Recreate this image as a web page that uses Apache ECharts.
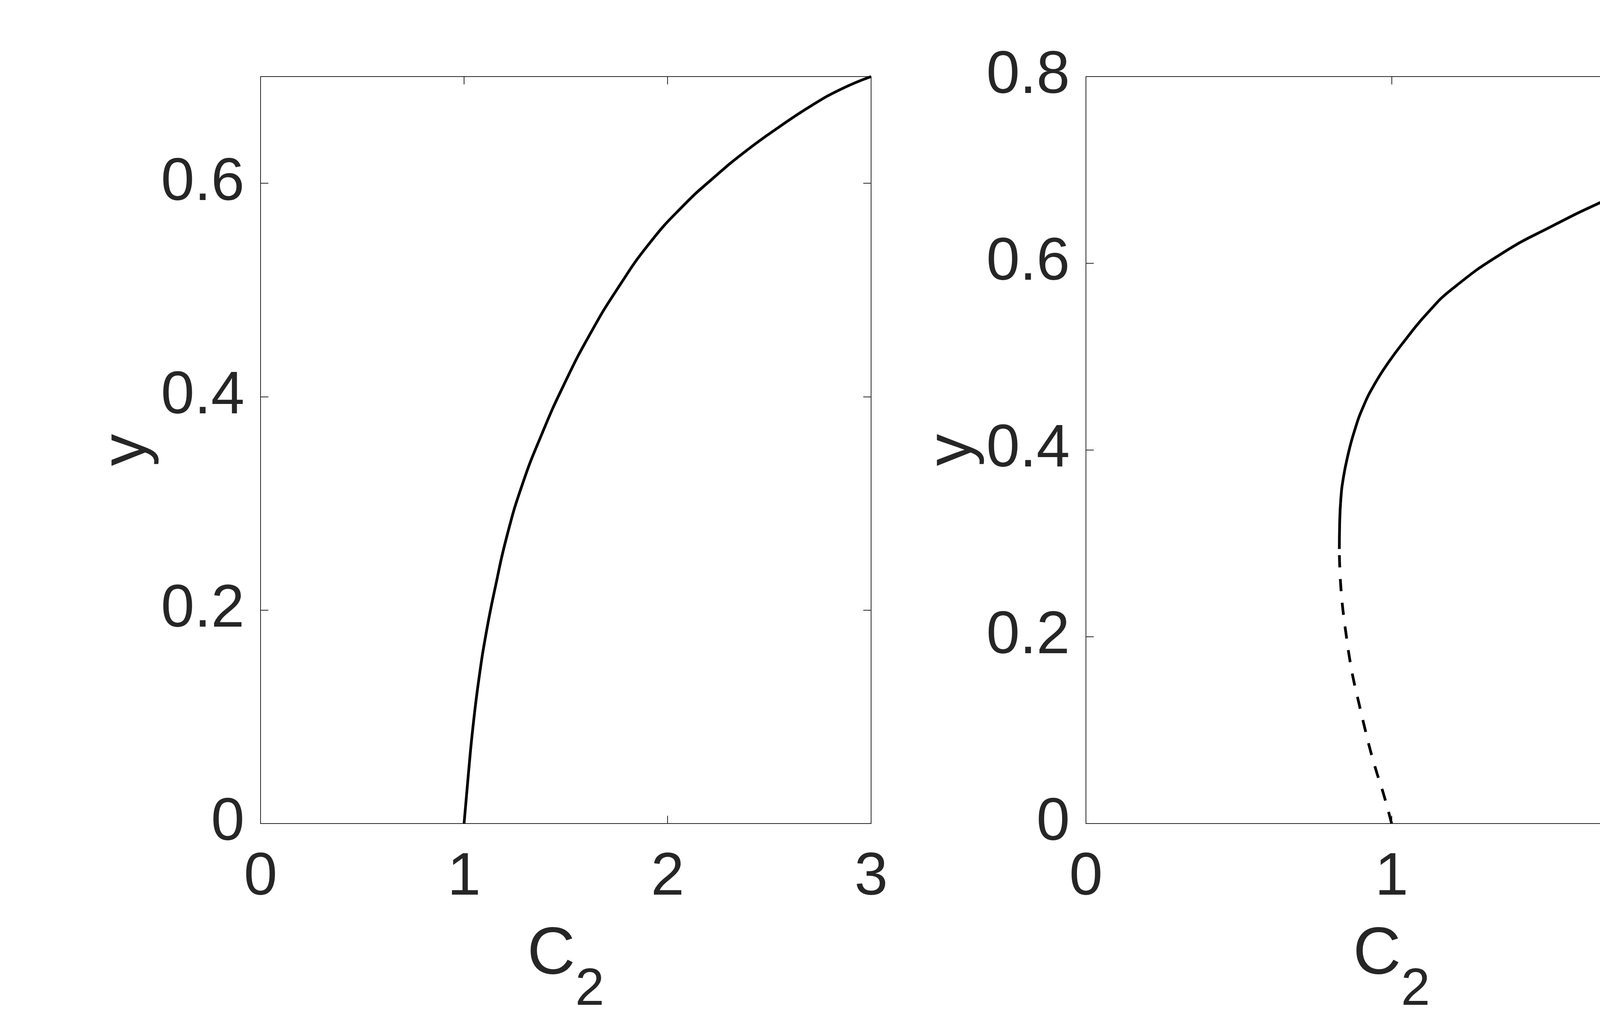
<!DOCTYPE html>
<html>
<head>
<meta charset="utf-8">
<script src="https://cdn.jsdelivr.net/npm/echarts@6/dist/echarts.min.js"></script>
<style>
html,body{margin:0;padding:0;background:#fff;}
#chart{width:4800px;height:2616px;}
</style>
</head>
<body>
<div id="chart"></div>
<script>
// ---- data ----
const leftC2 = [1.000, 1.022, 1.044, 1.074, 1.110, 1.154, 1.210, 1.285, 1.380, 1.490, 1.620, 1.760, 1.912, 2.072, 2.231, 2.390, 2.550, 2.709, 2.850, 3.000];
const leftY  = [0.000, 0.048, 0.091, 0.137, 0.180, 0.222, 0.269, 0.317, 0.364, 0.411, 0.459, 0.503, 0.544, 0.578, 0.606, 0.631, 0.653, 0.673, 0.688, 0.700];

const rightSolidC2 = [0.829, 0.830, 0.834, 0.842, 0.856, 0.878, 0.908, 0.945, 0.990, 1.040, 1.118, 1.200, 1.363, 1.526, 1.689, 1.852, 2.000];
const rightSolidY  = [0.294, 0.320, 0.348, 0.370, 0.393, 0.420, 0.447, 0.471, 0.494, 0.516, 0.547, 0.573, 0.611, 0.640, 0.666, 0.689, 0.707];

const rightDashC2 = [1.000, 0.976, 0.952, 0.930, 0.911, 0.893, 0.876, 0.862, 0.851, 0.841, 0.834, 0.830, 0.829];
const rightDashY  = [0.000, 0.029, 0.054, 0.079, 0.104, 0.129, 0.153, 0.178, 0.203, 0.228, 0.253, 0.278, 0.294];

const leftXTicks = [0, 1, 2, 3];
const leftYTicks = [0, 0.2, 0.4, 0.6];
const rightXTicks = [0, 1, 2];
const rightYTicks = [0, 0.2, 0.4, 0.6, 0.8];
const xNameMain = 'C';
const xNameSub = '2';
const yName = 'y';

// ---- chart ----
const FONT = '"Liberation Sans", Arial, Helvetica, sans-serif';
const INK = '#262626';
const zip = (a, b) => a.map((v, i) => [v, b[i]]);

function xAxisPair(gridIndex, min, max, interval) {
  const base = {
    gridIndex, type: 'value', min, max, interval,
    splitLine: {show: false},
    axisLine: {show: true, onZero: false, lineStyle: {color: INK, width: 2}},
    axisTick: {show: true, inside: true, length: 20, lineStyle: {color: INK, width: 2}}
  };
  return [
    Object.assign({}, base, {
      position: 'bottom',
      name: '{c|' + xNameMain + '}{s|' + xNameSub + '}',
      nameLocation: 'middle',
      nameGap: 288,
      nameMoveOverlap: false,
      nameTextStyle: {
        rich: {
          c: {fontSize: 170, lineHeight: 170, padding: [0, 0, 72, 0], fontFamily: FONT, color: INK},
          s: {fontSize: 134, lineHeight: 134, padding: [108, 0, 0, 0], fontFamily: FONT, color: INK}
        }
      },
      axisLabel: {show: true, margin: 63, fontSize: 154, fontFamily: FONT, color: INK}
    }),
    Object.assign({}, base, {position: 'top', axisLabel: {show: false}})
  ];
}

function yAxisPair(gridIndex, min, max, interval, showMax) {
  const base = {
    gridIndex, type: 'value', min, max, interval,
    splitLine: {show: false},
    axisLine: {show: true, onZero: false, lineStyle: {color: INK, width: 2}},
    axisTick: {show: true, inside: true, length: 20, lineStyle: {color: INK, width: 2}}
  };
  return [
    Object.assign({}, base, {
      position: 'left',
      name: yName,
      nameLocation: 'middle',
      nameRotate: 90,
      nameGap: 258,
      nameMoveOverlap: false,
      nameTextStyle: {fontSize: 164, fontFamily: FONT, color: INK},
      axisLabel: {show: true, margin: 41, fontSize: 154, fontFamily: FONT, color: INK, showMaxLabel: showMax}
    }),
    Object.assign({}, base, {position: 'right', axisLabel: {show: false}})
  ];
}

const chart = echarts.init(document.getElementById('chart'), null, {renderer: 'canvas'});
const option = {
  animation: false,
  backgroundColor: '#ffffff',
  grid: [
    {left: 667, top: 196, width: 1563, height: 1912, outerBoundsMode: 'none', containLabel: false},
    {left: 2780, top: 196, width: 1565, height: 1912, outerBoundsMode: 'none', containLabel: false}
  ],
  xAxis: [].concat(
    xAxisPair(0, leftXTicks[0], leftXTicks[leftXTicks.length - 1], leftXTicks[1] - leftXTicks[0]),
    xAxisPair(1, rightXTicks[0], rightXTicks[rightXTicks.length - 1], rightXTicks[1] - rightXTicks[0])
  ),
  yAxis: [].concat(
    yAxisPair(0, 0, 0.7, leftYTicks[1] - leftYTicks[0], false),
    yAxisPair(1, rightYTicks[0], rightYTicks[rightYTicks.length - 1], rightYTicks[1] - rightYTicks[0], true)
  ),
  series: [
    {
      type: 'line', xAxisIndex: 0, yAxisIndex: 0,
      data: zip(leftC2, leftY), showSymbol: false, smooth: 0.5, clip: false,
      lineStyle: {color: '#000000', width: 7}
    },
    {
      type: 'line', xAxisIndex: 2, yAxisIndex: 2,
      data: zip(rightSolidC2, rightSolidY), showSymbol: false, smooth: 0.5, clip: false,
      lineStyle: {color: '#000000', width: 7}
    },
    {
      type: 'line', xAxisIndex: 2, yAxisIndex: 2,
      data: zip(rightDashC2, rightDashY), showSymbol: false, smooth: 0.5, clip: false,
      lineStyle: {color: '#000000', width: 7, type: [31, 30]}
    }
  ]
};
chart.setOption(option);
</script>
</body>
</html>
